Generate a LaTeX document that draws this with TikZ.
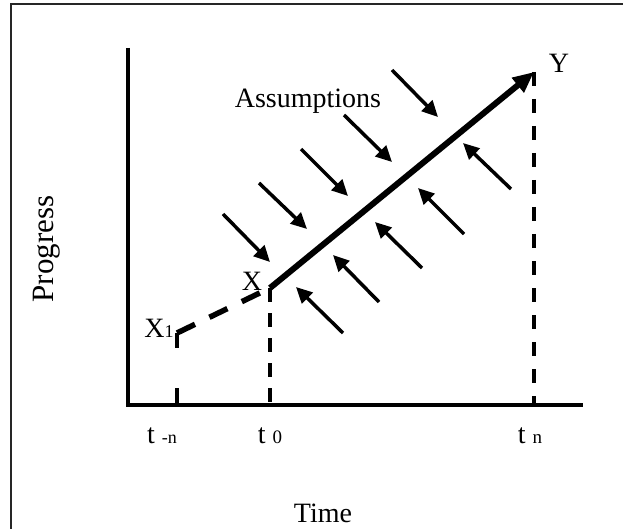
\documentclass[tikz,border=0pt]{standalone}
\usepackage{fontspec}
\setmainfont{Liberation Serif}
\usetikzlibrary{arrows.meta}
\tikzset{
  axisline/.style={line width=3.5pt},
  frameline/.style={line width=2pt, black!85},
  mainline/.style={line width=6pt, -{Triangle[length=21pt,width=18pt]}},
  dashvert/.style={line width=4.5pt, dash pattern=on 14pt off 13pt},
  dashdiag/.style={line width=5.5pt, dash pattern=on 20pt off 16pt},
  asm/.style={line width=3.5pt, -{Triangle[length=16pt,width=15pt]}},
  lbl/.style={inner sep=0pt, anchor=base, font=\fontsize{28}{30}\selectfont},
}
\begin{document}
\begin{tikzpicture}[x=1pt,y=-1pt]
\useasboundingbox (0,0) rectangle (623,529);
% cropped frame
\draw[frameline] (11,529) -- (11,4.5) -- (623,4.5);
% axes
\coordinate (O) at (128,405);
\coordinate (yt) at (128,48);
\coordinate (xr) at (583,405);
\draw[axisline] (yt) -- (O) -- (xr);
% key points
\coordinate (X1) at (177,333);
\coordinate (X) at (270,288);
\coordinate (Y) at (534,72);
\coordinate (tm) at (177,405);
\coordinate (t0) at (270,405);
\coordinate (tn) at (534,405);
% dashed lines
\draw[line width=4.5pt, dash pattern=on 15pt off 40pt] (X1) -- (tm);
\draw[dashvert, dash pattern=on 14pt off 11pt] (X) -- (t0);
\draw[dashvert] (Y) -- (tn);
\draw[dashdiag] (X1) -- (X);
% main progress line
\draw[mainline] (X) -- (Y);
% assumption arrows pointing down-right
\foreach \a/\b/\c/\d in {223/214/270/262, 259/183/307/229, 301/149/348/196, 344/115/392/162, 392/70/438/117}
  \draw[asm] (\a,\b) -- (\c,\d);
% assumption arrows pointing up-left
\foreach \a/\b/\c/\d in {343/333/296/287, 379/302/333/255, 422/268/375/222, 464/234/418/188, 511/189/463/143}
  \draw[asm] (\a,\b) -- (\c,\d);
% labels
\node[lbl] (assump) at (308,108) {Assumptions};
\node[lbl] (time) at (323,522) {Time};
\node[lbl, rotate=90, font=\fontsize{31}{32}\selectfont] (prog) at (53,249) {Progress};
\node[lbl] (lX) at (252,290) {X};
\node[lbl] (lX1) at (159,337) {X{\fontsize{18}{18}\selectfont 1}};
\node[lbl] (lY) at (559,73) {Y};
\node[lbl] (ltm) at (162,443) {t {\fontsize{18}{18}\selectfont -n}};
\node[lbl] (lt0) at (270,443) {t {\fontsize{19}{19}\selectfont 0}};
\node[lbl] (ltn) at (530,443) {t {\fontsize{19}{19}\selectfont n}};
\end{tikzpicture}
\end{document}
